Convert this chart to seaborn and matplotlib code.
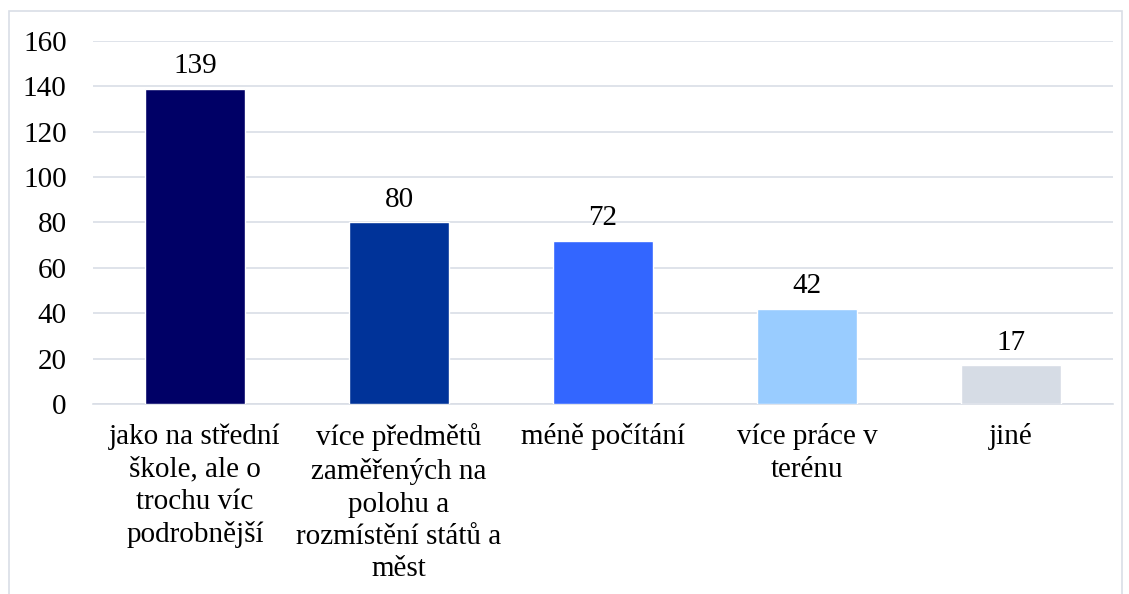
import matplotlib
matplotlib.use("Agg")
import matplotlib.pyplot as plt
import matplotlib.patches as mpatches
import seaborn as sns
import pandas as pd

categories = [
    "jako na střední\nškole, ale o\ntrochu víc\npodrobnější",
    "více předmětů\nzaměřených na\npolohu a\nrozmístění států a\nměst",
    "méně počítání",
    "více práce v\nterénu",
    "jiné",
]
values = [139, 80, 72, 42, 17]
colors = ["#000066", "#003399", "#3366FF", "#99CCFF", "#D6DCE5"]
yticks = [0, 20, 40, 60, 80, 100, 120, 140, 160]

sns.set_theme(style="white")
FAM = ["Liberation Serif", "DejaVu Serif"]
plt.rcParams["font.family"] = FAM

fig = plt.figure(figsize=(11.29, 5.94), dpi=100)
ax = fig.add_axes([93 / 1129, 1 - 404 / 594, 1020 / 1129, 363 / 594])

df = pd.DataFrame({"cat": categories, "val": values})
sns.barplot(data=df, x="cat", y="val", hue="cat", palette=colors, legend=False,
            width=0.49, ax=ax, saturation=1, zorder=3)

FS = 21
ax.set_ylim(0, 160)
ax.set_yticks(yticks)
ax.set_yticklabels([str(t) for t in yticks], fontsize=FS, color="#000000", family=FAM)
ax.set_xticks(range(len(categories)))
ax.set_xticklabels(categories, fontsize=FS, color="#000000", family=FAM,
                   ha="center", va="top", linespacing=1.32)
ax.tick_params(axis="x", length=0, pad=14)
ax.tick_params(axis="y", length=0, pad=19)
ax.set_xlabel("")
ax.set_ylabel("")
ax.grid(axis="y", color="#D9DEE6", linewidth=1.2, zorder=0)
for s in ["top", "right", "left"]:
    ax.spines[s].set_visible(False)
ax.spines["bottom"].set_color("#D9DEE6")
ax.spines["bottom"].set_linewidth(1.2)

for i, v in enumerate(values):
    ax.annotate(str(v), (i, v), xytext=(0, 7), textcoords="offset points",
                ha="center", va="bottom", fontsize=FS, color="#000000", family=FAM)

# outer frame
fig.patches.append(mpatches.Rectangle((9 / 1129, -0.05), (1122 - 9) / 1129, 1 - 11 / 594 + 0.05,
                                      transform=fig.transFigure, fill=False,
                                      edgecolor="#D9DEE6", linewidth=1.2))

fig.savefig("out.png", dpi=100)
